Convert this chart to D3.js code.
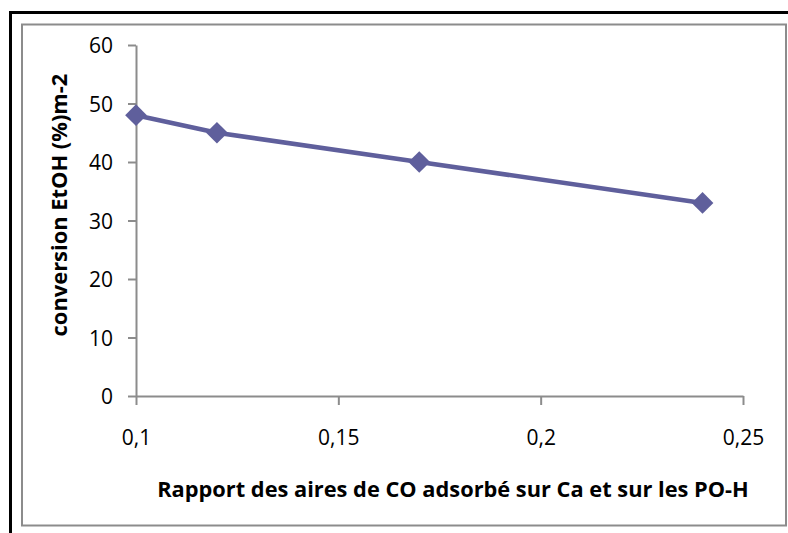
<!DOCTYPE html>
<html>
<head>
<meta charset="utf-8">
<script src="https://cdn.jsdelivr.net/npm/d3@7"></script>
<style>
  html, body { margin: 0; padding: 0; background: #fff; }
  svg { display: block; }
</style>
</head>
<body>
<svg id="chart" width="788" height="533"></svg>
<script>
// Conversion of ethanol versus the CO adsorption area ratio (Ca / PO-H)
const ratio = [0.1, 0.12, 0.17, 0.24];
const conversion = [48, 45, 40, 33];
const xTicks = [0.1, 0.15, 0.2, 0.25];
const yTicks = [0, 10, 20, 30, 40, 50, 60];
const xTitle = "Rapport des aires de CO adsorbé sur Ca et sur les PO-H";
const yTitle = "conversion EtOH (%)m-2";

const svg = d3.select("#chart");
const W = 788, H = 533;
const font = "'Open Sans', 'Noto Sans', sans-serif";
const seriesColor = "#5f5f9c";
const axisColor = "#8c8c8c";

// Outer frame: heavy black rule on top and left, grey chart border inside
svg.append("line").attr("x1", 9).attr("x2", W).attr("y1", 12.5).attr("y2", 12.5)
  .attr("stroke", "#000").attr("stroke-width", 3);
svg.append("line").attr("x1", 10.5).attr("x2", 10.5).attr("y1", 11).attr("y2", H)
  .attr("stroke", "#000").attr("stroke-width", 3);
svg.append("rect").attr("x", 22).attr("y", 24.5).attr("width", 764).attr("height", 501)
  .attr("fill", "#fff").attr("stroke", axisColor).attr("stroke-width", 2);

const x = d3.scaleLinear().domain([0.1, 0.25]).range([136, 743]);
const y = d3.scaleLinear().domain([0, 60]).range([396, 45]);

const fmt = d => String(d).replace(".", ",");

// Y axis
const yAxis = svg.append("g").attr("transform", "translate(136,0)")
  .call(d3.axisLeft(y).tickValues(yTicks).tickSize(8).tickPadding(15).tickSizeOuter(0).tickFormat(d => d));
// X axis
const xAxis = svg.append("g").attr("transform", "translate(0,396)")
  .call(d3.axisBottom(x).tickValues(xTicks).tickSize(9).tickPadding(27).tickSizeOuter(0).tickFormat(fmt));

[yAxis, xAxis].forEach(g => {
  g.select(".domain").attr("stroke", axisColor).attr("stroke-width", 2);
  g.selectAll(".tick line").attr("stroke", axisColor).attr("stroke-width", 2);
  g.selectAll(".tick text").attr("fill", "#000").attr("font-family", font).attr("font-size", 21);
});
yAxis.selectAll(".tick text").attr("dy", "0.38em");
xAxis.selectAll(".tick text").attr("dy", "0.62em");

// Series line and diamond markers
const pts = ratio.map((r, i) => [r, conversion[i]]);
svg.append("path").datum(pts)
  .attr("fill", "none").attr("stroke", seriesColor).attr("stroke-width", 4.5)
  .attr("stroke-linejoin", "round")
  .attr("d", d3.line().x(d => x(d[0])).y(d => y(d[1])));

const diamond = d3.symbol().type(d3.symbolDiamond2).size(300);
svg.selectAll("path.mark").data(pts).enter().append("path")
  .attr("class", "mark")
  .attr("transform", d => `translate(${x(d[0])},${y(d[1])})`)
  .attr("d", diamond)
  .attr("fill", seriesColor);

// Axis titles, sized to their measured extents
function fitText(sel, target) {
  const fs = 18;
  sel.attr("font-size", fs);
  const len = sel.node().getComputedTextLength();
  sel.attr("font-size", fs * target / len);
}

const xt = svg.append("text").text(xTitle)
  .attr("x", 453).attr("y", 497)
  .attr("text-anchor", "middle")
  .attr("font-family", font).attr("font-weight", "bold").attr("fill", "#000");
fitText(xt, 592);

const yt = svg.append("text").text(yTitle)
  .attr("transform", "translate(67,205) rotate(-90)")
  .attr("text-anchor", "middle")
  .attr("font-family", font).attr("font-weight", "bold").attr("fill", "#000");
fitText(yt, 263);
</script>
</body>
</html>
